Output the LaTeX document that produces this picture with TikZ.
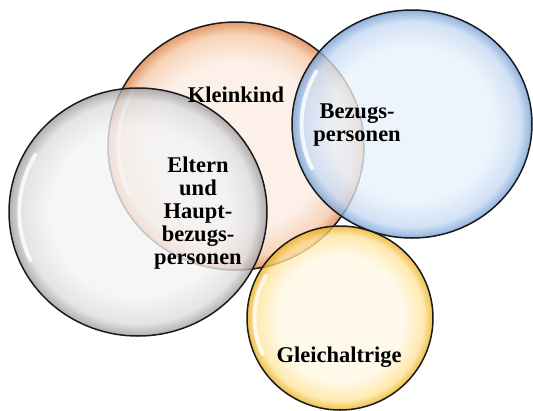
\documentclass[tikz,border=0pt]{standalone}
\usepackage{fontspec}
\setmainfont{Liberation Serif}
\definecolor{oIn}{HTML}{FCEDE2}
\definecolor{oMid}{HTML}{F6C9A6}
\definecolor{oOut}{HTML}{DC7E42}
\definecolor{gIn}{HTML}{F4F4F5}
\definecolor{gMid}{HTML}{DDDDE0}
\definecolor{gOut}{HTML}{9A9A9F}
\definecolor{bIn}{HTML}{E9F1FC}
\definecolor{bMid}{HTML}{C6DAF3}
\definecolor{bOut}{HTML}{719DD3}
\definecolor{yIn}{HTML}{FFF8E5}
\definecolor{yMid}{HTML}{FFE49A}
\definecolor{yOut}{HTML}{EBAE18}
\definecolor{rim}{HTML}{1A1A1A}
\pgfdeclareradialshading{bubO}{\pgfpoint{0bp}{0bp}}{color(0bp)=(oIn); color(17bp)=(oIn); color(22.5bp)=(oMid); color(25bp)=(oOut); color(50bp)=(oOut)}
\pgfdeclareradialshading{bubG}{\pgfpoint{0bp}{0bp}}{color(0bp)=(gIn); color(17bp)=(gIn); color(22.5bp)=(gMid); color(25bp)=(gOut); color(50bp)=(gOut)}
\pgfdeclareradialshading{bubB}{\pgfpoint{0bp}{0bp}}{color(0bp)=(bIn); color(17bp)=(bIn); color(22.5bp)=(bMid); color(25bp)=(bOut); color(50bp)=(bOut)}
\pgfdeclareradialshading{bubY}{\pgfpoint{0bp}{0bp}}{color(0bp)=(yIn); color(17bp)=(yIn); color(22.5bp)=(yMid); color(25bp)=(yOut); color(50bp)=(yOut)}
\newcommand\drawbubble[5]{%
  \shade[shading=#5, fill opacity=0.78] (#1,#2) ellipse[x radius=#3, y radius=#4];
  \draw[white, line width=4pt, opacity=0.8, line cap=round]
    ({#1+0.92*#3*cos(155)},{#2+0.92*#4*sin(155)}) arc[start angle=155, end angle=210, x radius={0.92*#3}, y radius={0.92*#4}];
  \draw[rim, line width=1.5pt] (#1,#2) ellipse[x radius=#3, y radius=#4];
}
\tikzset{lbl/.style={font=\fontsize{22.5}{23}\selectfont\bfseries, align=center, inner sep=0pt, text=black}}
\begin{document}
\begin{tikzpicture}[x=1pt,y=-1pt]
\useasboundingbox (0,0) rectangle (533,410);
\fill[white] (0,0) rectangle (533,410);
\drawbubble{236}{146}{128}{124}{bubO}
\drawbubble{412}{124}{120}{114}{bubB}
\drawbubble{340}{318}{93}{92}{bubY}
\drawbubble{138}{212}{129}{124}{bubG}
\node[lbl] (kind) at (236,95) {Kleinkind};
\node[lbl] (bez) at (357,125) {Bezugs-\\personen};
\node[lbl] (elt) at (198,213) {Eltern\\und\\Haupt-\\bezugs-\\personen};
\node[lbl] (gleich) at (339,357) {Gleichaltrige};
\end{tikzpicture}
\end{document}
